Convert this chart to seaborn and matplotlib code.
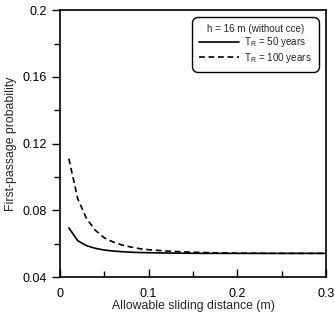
import numpy as np
import pandas as pd
import matplotlib
matplotlib.use('Agg')
import matplotlib.pyplot as plt
from matplotlib.ticker import MultipleLocator
import seaborn as sns

# Values
distance = [0.01, 0.02, 0.03, 0.04, 0.05, 0.06, 0.07, 0.08, 0.09, 0.10,
            0.12, 0.14, 0.16, 0.18, 0.20, 0.25, 0.30]
prob_50 = [0.0695, 0.0618, 0.0588, 0.0572, 0.0562, 0.0556, 0.0552, 0.0549, 0.0547, 0.0546,
           0.0544, 0.0543, 0.0542, 0.0542, 0.0542, 0.0542, 0.0542]
prob_100 = [0.111, 0.087, 0.075, 0.068, 0.0635, 0.0610, 0.0592, 0.0580, 0.0570, 0.0564,
            0.0556, 0.0551, 0.0547, 0.0545, 0.0543, 0.0542, 0.0542]
series_labels = ['T$_{R}$ = 50 years', 'T$_{R}$ = 100 years']
legend_title = 'h = 16 m (without cce)'

df = pd.DataFrame({
    'x': distance * 2,
    'y': prob_50 + prob_100,
    'series': [series_labels[0]] * len(distance) + [series_labels[1]] * len(distance),
})

sns.set_style('ticks')
plt.rcParams['font.family'] = ['Liberation Sans', 'DejaVu Sans']
plt.rcParams['mathtext.default'] = 'regular'

fig = plt.figure(figsize=(3.35, 3.17), dpi=100)
ax = fig.add_axes([0.179, 0.126, 0.794, 0.842])

sns.lineplot(data=df, x='x', y='y', style='series', color='black',
             dashes={series_labels[0]: '', series_labels[1]: (3.5, 2.2)},
             linewidth=1.2, ax=ax)

ax.set_xlim(0, 0.3)
ax.set_ylim(0.04, 0.2)
ax.xaxis.set_minor_locator(MultipleLocator(0.05))
ax.yaxis.set_minor_locator(MultipleLocator(0.02))
ax.set_xticks([0, 0.1, 0.2, 0.3])
ax.set_xticklabels(['0', '0.1', '0.2', '0.3'])
ax.set_yticks([0.04, 0.08, 0.12, 0.16, 0.2])
ax.set_yticklabels(['0.04', '0.08', '0.12', '0.16', '0.2'])
ax.tick_params(axis='x', which='major', direction='in', length=6, width=1,
               labelsize=9, pad=8, colors='black')
ax.tick_params(axis='x', which='minor', direction='in', length=4, width=1, colors='black')
ax.tick_params(axis='y', which='major', direction='out', length=6, width=1,
               labelsize=9, pad=3.5, colors='black')
ax.tick_params(axis='y', which='minor', direction='out', length=4.5, width=1, colors='black')
for s in ax.spines.values():
    s.set_linewidth(1.2)
    s.set_color('black')

ax.set_xlabel('Allowable sliding distance (m)', fontsize=8.8, labelpad=0)
ax.set_ylabel('First-passage probability', fontsize=8.8, labelpad=4)

leg = ax.legend(title=legend_title, loc='upper right', fontsize=7.1, title_fontsize=7.1,
                frameon=True, fancybox=True, edgecolor='black', framealpha=1,
                handlelength=4.0, handletextpad=0.5, borderpad=0.55,
                labelspacing=0.12, bbox_to_anchor=(0.984, 0.986))
leg.get_frame().set_linewidth(1.0)
leg.get_frame().set_boxstyle('round,pad=0.2,rounding_size=0.6')

fig.savefig('out.png', dpi=100)
